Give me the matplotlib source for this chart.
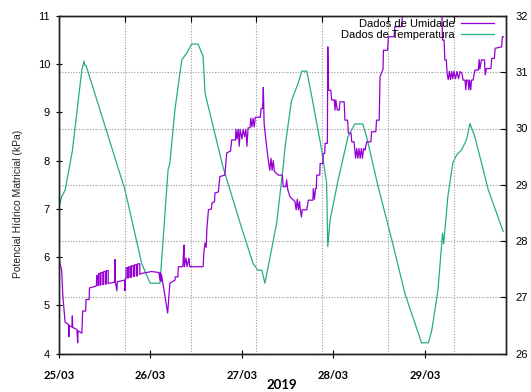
import matplotlib
matplotlib.use("Agg")
import matplotlib.pyplot as plt
from matplotlib.ticker import FixedLocator

# ---- data (hours since 25/03 00:00) ----
temp_h = [0.0, 0.7, 1.6, 3.5, 6.0, 6.6, 6.8, 7.1, 17.3, 21.7, 23.9, 26.5, 28.6, 29.1, 30.4,
          32.2, 33.5, 34.8, 36.5, 37.8, 38.3, 43.0, 47.5, 50.9, 52.2, 53.2, 54.0, 54.8,
          57.1, 58.8, 59.3, 61.0, 62.7, 63.7, 65.0, 66.3, 68.9, 70.2, 70.5, 71.1, 73.2,
          75.8, 77.6, 79.7, 80.7, 83.7, 87.3, 90.8, 95.1, 96.9, 97.8, 99.4, 100.4, 100.6,
          100.9, 102.0, 103.3, 104.3, 105.6, 106.9, 107.8, 109.1, 112.6, 116.5]
temp_v = [28.6, 28.79, 28.9, 29.6, 31.05, 31.2, 31.12, 31.12, 28.91, 27.6, 27.25, 27.25, 29.26,
          29.39, 30.33, 31.22, 31.34, 31.5, 31.5, 31.28, 30.63, 29.32, 28.32, 27.6, 27.48,
          27.48, 27.25, 27.52, 28.32, 29.32, 29.68, 30.5, 30.8, 31.02, 31.02, 30.57, 29.62,
          29.03, 27.9, 28.37, 29.08, 29.85, 30.08, 30.08, 29.85, 28.97, 28.02, 27.05, 26.19,
          26.19, 26.42, 27.13, 27.96, 28.14, 27.95, 28.79, 29.39, 29.53, 29.62, 29.8, 30.09,
          29.85, 28.91, 28.17]

hum_h = [0.0, 0.3, 0.7, 1.0, 1.6, 2.5, 2.6, 2.7, 3.4, 3.5, 3.6, 4.7, 4.9, 5.0, 6.0, 6.2, 7.0,
         7.1, 7.9, 8.0, 9.8,
         9.9, 10.2, 10.2, 10.4, 10.4, 10.8, 10.8, 11.0, 11.0, 11.5, 11.5, 11.7, 11.7, 12.2,
         12.2, 12.4, 12.4, 12.9, 12.9, 13.4,
         14.6, 14.7, 14.8, 15.2, 15.3, 16.0, 17.2, 17.3, 17.4,
         17.6, 17.6, 18.0, 18.0, 18.3, 18.3, 18.7, 18.7, 19.0, 19.0, 19.5, 19.5, 19.8, 19.8,
         20.3, 20.3, 20.6, 20.6, 21.2, 21.2, 21.6,
         24.3, 26.2, 26.5, 26.6, 26.8, 26.9, 27.8, 28.5, 29.1, 30.4,
         30.5, 31.2, 31.3, 32.5, 32.6, 32.8, 32.9, 33.3, 33.6, 34.1, 34.3, 37.8,
         38.0, 38.3, 38.6, 38.8, 39.2, 40.0, 40.1, 40.8, 40.9, 41.8, 42.2, 43.5, 44.0, 45.0,
         45.3, 46.3,
         46.4, 46.7, 47.0, 47.3, 47.5, 48.0, 48.3, 48.7, 49.0, 49.3, 49.6, 50.1, 50.3, 50.6,
         50.9, 51.2, 51.5, 52.8, 53.0, 53.4, 53.6, 53.8, 54.3, 54.9,
         55.3, 55.6, 55.9, 56.2, 56.5, 57.5, 58.6, 58.8, 59.5, 59.7, 60.0, 60.6, 61.9, 62.2,
         62.5, 62.8, 63.1, 63.3, 63.6, 63.8, 65.0, 65.4, 66.6, 66.7, 67.0, 67.3, 67.5, 67.6,
         68.4, 68.5, 69.2, 69.3, 69.7, 69.8, 70.4, 70.5, 70.7, 71.3, 71.5, 72.2, 72.4, 72.6,
         73.0, 73.5, 73.7, 74.8, 75.0, 75.7, 75.9, 76.6, 76.8, 77.4, 77.6,
         77.8, 78.1, 78.4, 78.7, 79.0, 79.3, 79.6, 79.9, 80.3, 80.7, 81.8, 82.0, 83.1, 83.3,
         84.0, 84.2, 85.0, 85.1, 86.2, 86.4, 87.9, 88.1, 89.9, 90.2, 100.4, 100.6, 101.0,
         101.2, 101.6, 101.8,
         102.1, 102.4, 102.7, 103.0, 103.3, 103.6, 104.0, 104.4, 104.8, 105.2, 105.7, 106.0,
         106.5, 106.7, 106.9, 107.3, 107.5, 107.7, 108.0, 108.2, 108.6, 109.1, 110.0, 110.2,
         110.4, 110.8, 111.6, 111.8, 112.1, 113.3, 113.5, 114.2, 114.4, 116.1, 116.3, 116.6]
hum_v = [6.02, 5.85, 5.73, 5.2, 4.65, 4.6, 4.35, 4.58, 4.55, 4.78, 4.54, 4.5, 4.22, 4.47, 4.42,
         4.88, 4.88, 5.12, 5.12, 5.36, 5.40,
         5.62, 5.62, 5.41, 5.41, 5.66, 5.66, 5.42, 5.42, 5.68, 5.68, 5.43, 5.43, 5.70, 5.70,
         5.44, 5.44, 5.72, 5.72, 5.45, 5.46,
         5.48, 5.95, 5.48, 5.3, 5.49, 5.5, 5.52, 5.3, 5.56,
         5.56, 5.78, 5.78, 5.57, 5.57, 5.80, 5.80, 5.58, 5.58, 5.82, 5.82, 5.60, 5.60, 5.84,
         5.84, 5.61, 5.61, 5.86, 5.86, 5.64, 5.66,
         5.70, 5.68, 5.52, 5.68, 5.5, 5.63, 5.18, 4.84, 5.46, 5.52,
         5.59, 5.59, 5.80, 5.80, 6.01, 6.25, 5.8, 5.98, 5.8, 5.98, 5.8, 5.8,
         6.1, 6.29, 6.2, 6.6, 6.98, 7.0, 7.12, 7.15, 7.33, 7.35, 7.67, 7.7, 8.16, 8.2,
         8.43, 8.43,
         8.65, 8.45, 8.65, 8.3, 8.65, 8.45, 8.65, 8.5, 8.65, 8.3, 8.68, 8.68, 8.88, 8.7,
         8.88, 8.7, 8.9, 8.9, 9.08, 9.08, 9.52, 8.78, 8.4, 8.01,
         7.8, 8.05, 7.8, 8.0, 7.78, 7.7, 7.7, 7.46, 7.46, 7.6, 7.4, 7.25, 7.15, 6.98,
         7.2, 6.98, 7.15, 6.98, 6.83, 6.98, 6.98, 7.18, 7.18, 7.42, 7.2, 7.42, 7.42, 7.70,
         7.70, 7.94, 7.94, 8.15, 8.15, 8.36, 8.36, 10.36, 9.46, 9.46, 9.26, 9.26, 9.05, 9.26,
         9.05, 9.05, 9.22, 9.22, 8.84, 8.84, 8.57, 8.57, 8.39, 8.39, 8.22,
         8.05, 8.25, 8.05, 8.25, 8.05, 8.25, 8.05, 8.25, 8.22, 8.39, 8.39, 8.6, 8.6, 8.84,
         8.84, 9.74, 9.9, 10.29, 10.29, 10.57, 10.57, 10.78, 10.78, 11.2, 11.2, 10.5, 10.5,
         10.09, 10.09, 9.81,
         9.68, 9.85, 9.68, 9.85, 9.7, 9.85, 9.7, 9.85, 9.7, 9.85, 9.81, 9.67,
         9.67, 9.47, 9.67, 9.67, 9.47, 9.67, 9.47, 9.67, 9.67, 9.88, 9.88, 10.1,
         9.9, 10.09, 10.09, 9.78, 9.91, 9.91, 10.12, 10.12, 10.33, 10.36, 10.57, 10.57]

date_hours = [0, 24, 48, 72, 96]
date_labels = ["25/03", "26/03", "27/03", "28/03", "29/03"]
grid_hours = [17.25, 34.5, 51.75, 69.0, 86.25, 103.5]
hum_ticks = [4, 5, 6, 7, 8, 9, 10, 11]
temp_ticks = [26, 27, 28, 29, 30, 31, 32]

PURPLE = "#9400D3"
TEAL = "#009E73"

plt.rcParams['font.family'] = ['Liberation Sans', 'DejaVu Sans']

fig = plt.figure(figsize=(5.31, 3.92), dpi=100)
ax = fig.add_axes([59/531, 1 - 353.5/392, 447/531, 337.5/392])
ax2 = ax.twinx()
ax.set_zorder(ax2.get_zorder() + 1)
ax.patch.set_visible(False)

l1, = ax.plot(hum_h, hum_v, color=PURPLE, lw=0.9, label="Dados de Umidade")
l2, = ax2.plot(temp_h, temp_v, color=TEAL, lw=0.9, alpha=0.85, label="Dados de Temperatura")

ax.set_xlim(0, 117.25)
ax.set_ylim(4, 11)
ax2.set_ylim(26, 32)

ax.set_yticks(hum_ticks)
ax2.set_yticks(temp_ticks)
ax.set_xticks(date_hours)
ax.set_xticklabels(date_labels, fontfamily='Lato', fontweight='bold', fontsize=8)
ax.xaxis.set_minor_locator(FixedLocator(grid_hours))

ax.tick_params(axis='x', which='major', direction='inout', length=6, width=0.8,
               bottom=True, top=False, pad=9)
ax.tick_params(axis='x', which='minor', direction='in', length=4, width=0.8,
               bottom=False, top=True)
ax.tick_params(axis='y', which='major', direction='inout', length=5, width=0.8,
               labelsize=8, pad=4)
ax2.tick_params(axis='y', which='major', direction='in', length=4, width=0.8,
                labelsize=8, pad=7)

ax.grid(which='minor', axis='x', color='#999999', linestyle=(0, (1, 1.5)), lw=0.8)
ax2.grid(axis='y', color='#999999', linestyle=(0, (1, 1.5)), lw=0.8)
ax.grid(which='major', axis='x', visible=False)
ax.grid(which='major', axis='y', visible=False)

for a in (ax, ax2):
    for s in a.spines.values():
        s.set_color('#222222')
        s.set_linewidth(1.0)

fig.text(18/531, 188/392, "Potencial Hídrico Matricial (kPa)", rotation=90,
         ha='center', va='center', fontsize=7.5, color='#222222')
fig.text(282/531, 1 - 385/392, "2019", ha='center', va='center',
         fontfamily='Lato', fontweight='bold', fontsize=9.5)

leg = ax.legend(handles=[l1, l2], loc='upper right', bbox_to_anchor=(494/531, 1 - 19/392),
                bbox_transform=fig.transFigure, frameon=False, markerfirst=False,
                fontsize=8, handlelength=3.0, handletextpad=0.5, labelspacing=0.05,
                borderpad=0, borderaxespad=0)

fig.savefig("out.png", dpi=100)
